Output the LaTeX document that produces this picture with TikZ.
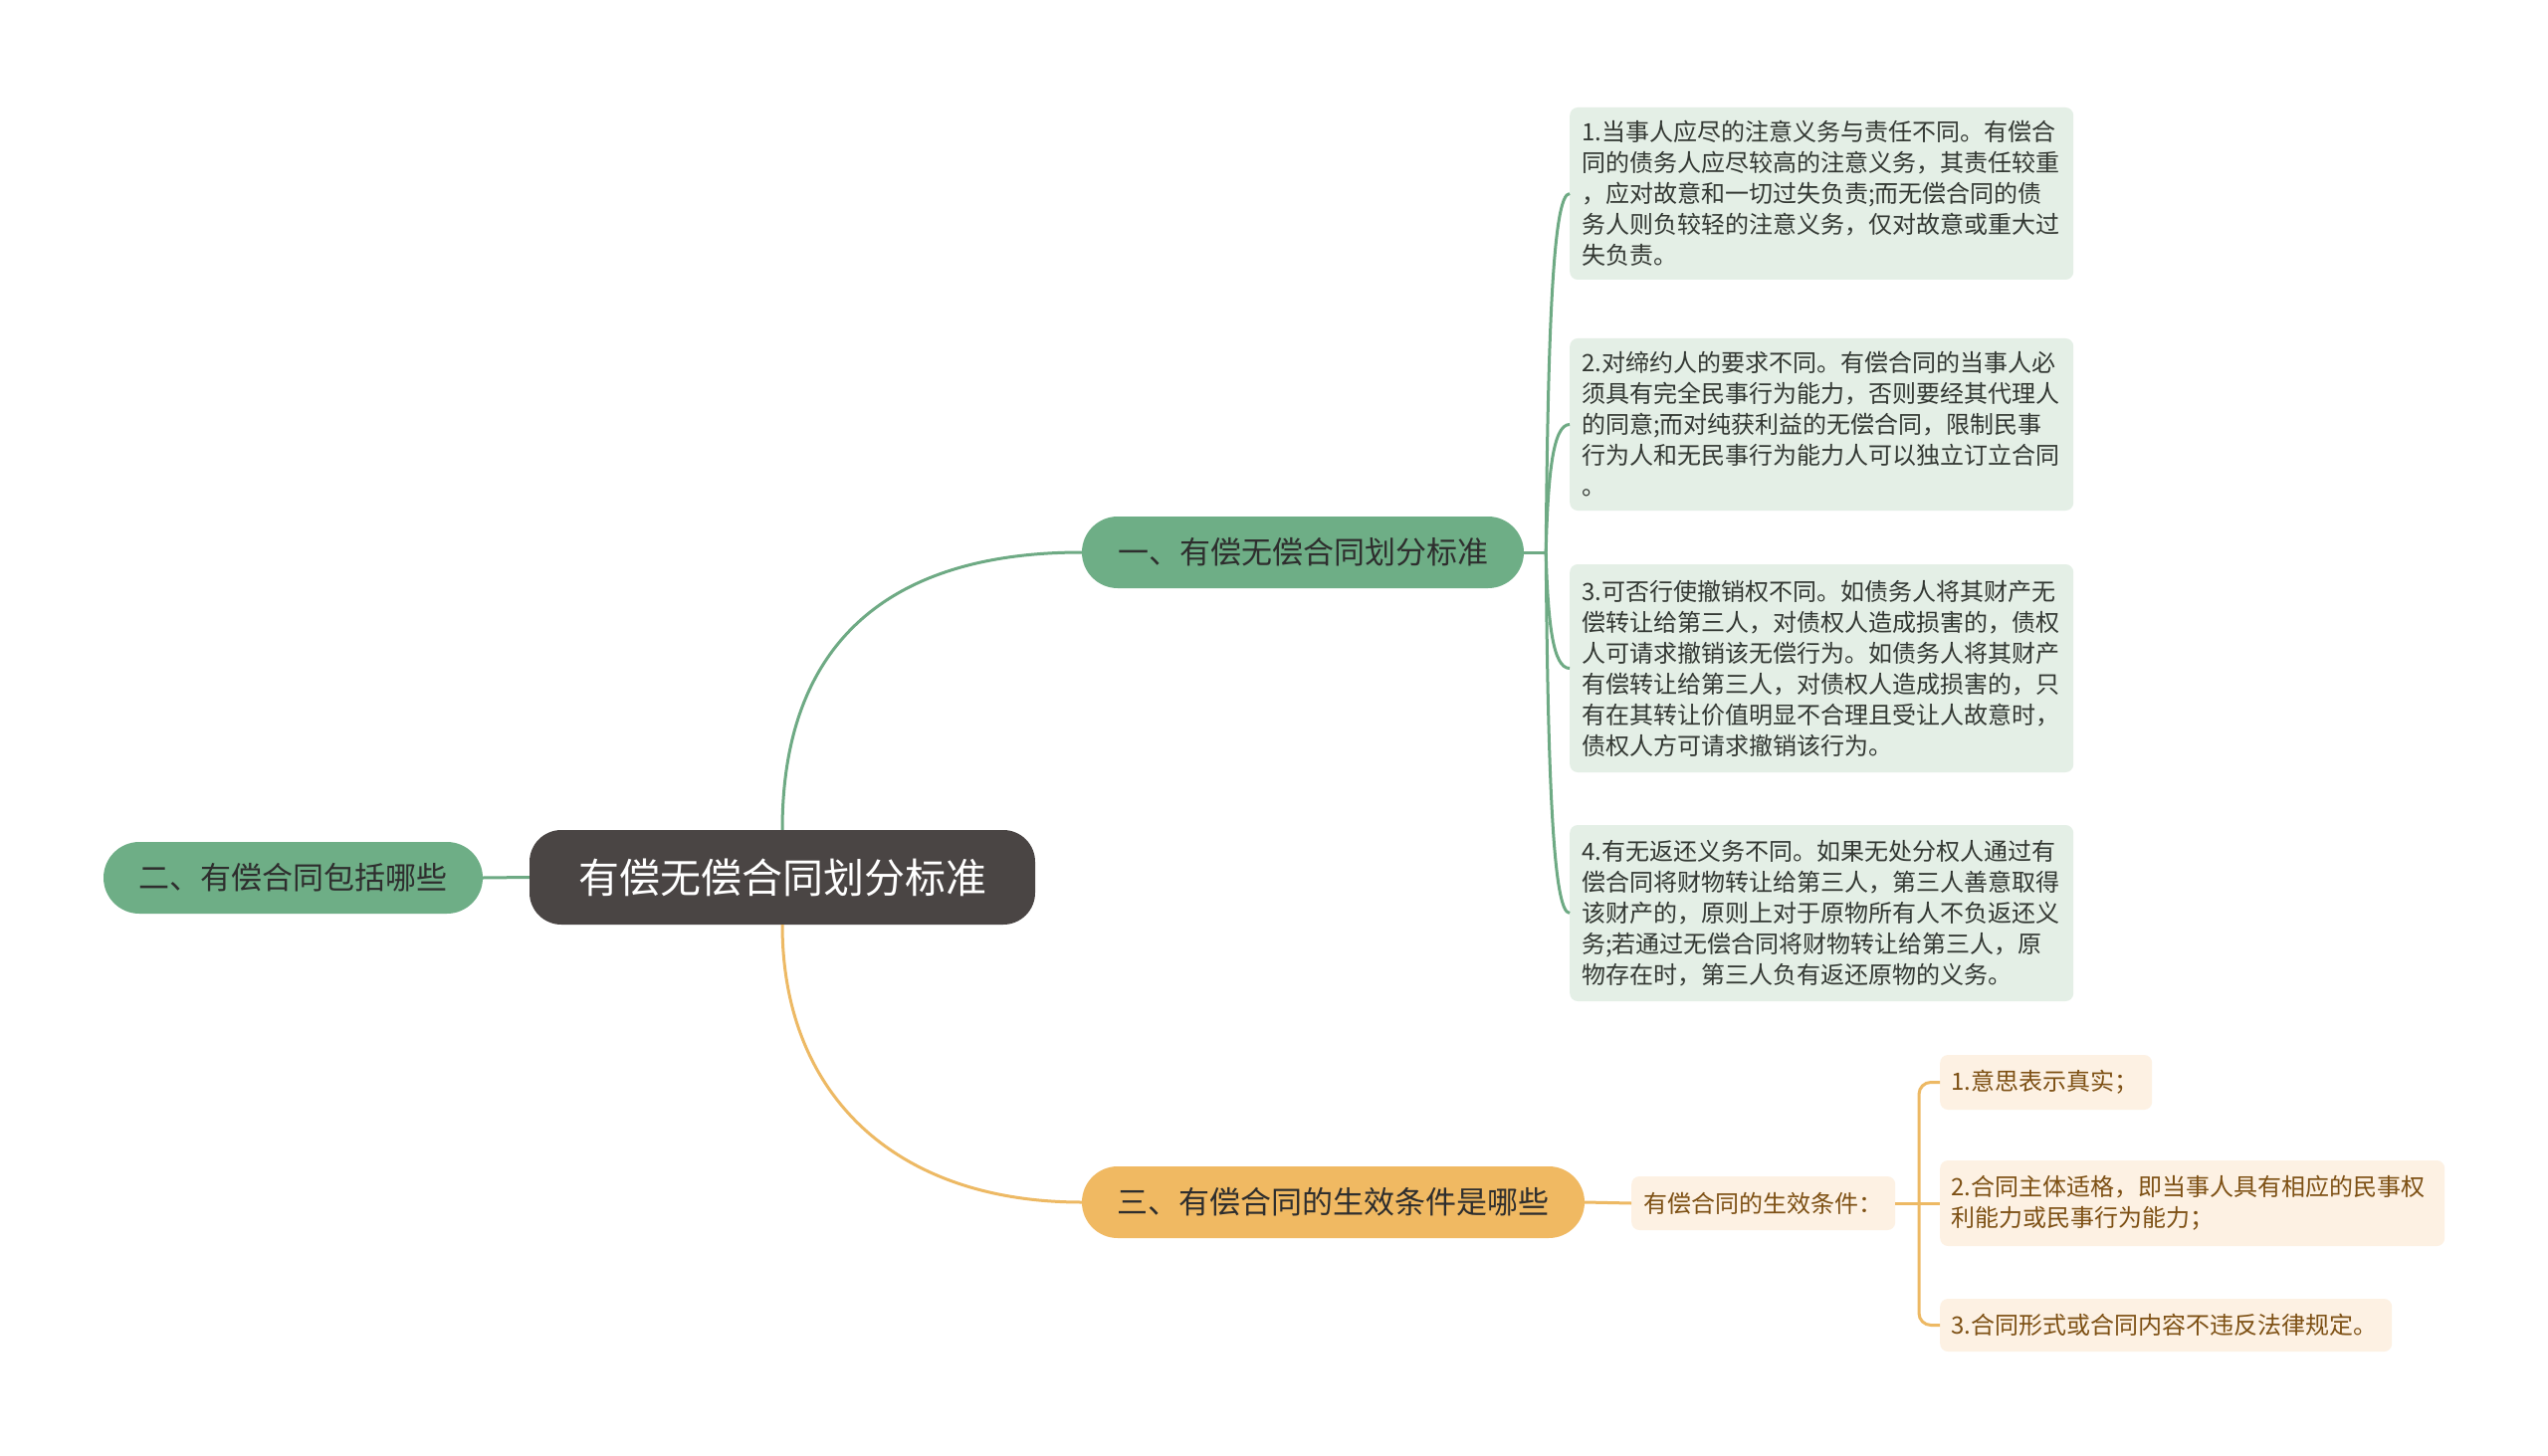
\documentclass[tikz,border=0pt]{standalone}
\usepackage{fontspec}
\setmainfont{Noto Sans CJK SC}
\definecolor{cdark}{HTML}{4A4544}
\definecolor{gbranch}{HTML}{6EAE86}
\definecolor{gleaf}{HTML}{E4EFE6}
\definecolor{gline}{HTML}{6EAA84}
\definecolor{obranch}{HTML}{F0B962}
\definecolor{oleaf}{HTML}{FDF1E3}
\definecolor{oline}{HTML}{EDB964}
\definecolor{otext}{HTML}{7D5014}
\definecolor{dtext}{HTML}{2E2E2E}
\definecolor{ltext}{HTML}{333833}
\tikzset{
  central/.style={fill=cdark, text=white, rounded corners=32pt, inner sep=0pt,
    minimum width=508pt, minimum height=95pt, font=\fontsize{41pt}{48pt}\selectfont},
  branchg/.style={fill=gbranch, text=dtext, rounded corners=36pt, inner sep=0pt,
    minimum height=72pt, font=\fontsize{31pt}{36pt}\selectfont},
  brancho/.style={fill=obranch, text=dtext, rounded corners=36pt, inner sep=0pt,
    minimum height=72pt, font=\fontsize{31pt}{36pt}\selectfont},
  leafg/.style={fill=gleaf, text=ltext, rounded corners=8pt, anchor=west,
    inner xsep=12pt, inner ysep=0pt, minimum width=506pt, text width=482pt, align=left,
    font=\fontsize{24pt}{31pt}\selectfont},
  subo/.style={fill=oleaf, text=otext, rounded corners=8pt, anchor=west,
    inner sep=0pt, minimum width=265pt, minimum height=54pt,
    font=\fontsize{24pt}{31pt}\selectfont},
  leafo/.style={fill=oleaf, text=otext, rounded corners=8pt, anchor=west,
    inner xsep=11pt, inner ysep=0pt, align=left,
    font=\fontsize{24pt}{31pt}\selectfont},
  lineg/.style={draw=gline, line width=3pt},
  lineo/.style={draw=oline, line width=3pt},
}
\begin{document}
\begin{tikzpicture}[x=1pt, y=-1pt]
\useasboundingbox[fill=white] (0,0) rectangle (2560,1463);

% main nodes
\node[central] (c) at (786,881.5) {有偿无偿合同划分标准};
\node[branchg, minimum width=444pt] (b1) at (1309,555) {一、有偿无偿合同划分标准};
\node[branchg, minimum width=381pt] (b2) at (294.5,882) {二、有偿合同包括哪些};
\node[brancho, minimum width=505pt] (b3) at (1339.5,1208) {三、有偿合同的生效条件是哪些};

% green leaves
\node[leafg, minimum height=173pt] (g1) at (1577,194.5) {1.当事人应尽的注意义务与责任不同。有偿合\\同的债务人应尽较高的注意义务，其责任较重\\，应对故意和一切过失负责;而无偿合同的债\\务人则负较轻的注意义务，仅对故意或重大过\\失负责。};
\node[leafg, minimum height=173pt] (g2) at (1577,426.5) {2.对缔约人的要求不同。有偿合同的当事人必\\须具有完全民事行为能力，否则要经其代理人\\的同意;而对纯获利益的无偿合同，限制民事\\行为人和无民事行为能力人可以独立订立合同\\。};
\node[leafg, minimum height=209pt] (g3) at (1577,671.5) {3.可否行使撤销权不同。如债务人将其财产无\\偿转让给第三人，对债权人造成损害的，债权\\人可请求撤销该无偿行为。如债务人将其财产\\有偿转让给第三人，对债权人造成损害的，只\\有在其转让价值明显不合理且受让人故意时，\\债权人方可请求撤销该行为。};
\node[leafg, minimum height=177pt] (g4) at (1577,917.5) {4.有无返还义务不同。如果无处分权人通过有\\偿合同将财物转让给第三人，第三人善意取得\\该财产的，原则上对于原物所有人不负返还义\\务;若通过无偿合同将财物转让给第三人，原\\物存在时，第三人负有返还原物的义务。};

% orange sub and leaves
\node[subo] (s) at (1639,1209) {有偿合同的生效条件：};
\node[leafo, minimum width=213pt, minimum height=55pt, text width=191pt] (l1) at (1949,1087.5) {1.意思表示真实；};
\node[leafo, minimum width=507pt, minimum height=86pt, text width=485pt] (l2) at (1949,1209) {2.合同主体适格，即当事人具有相应的民事权\\利能力或民事行为能力；};
\node[leafo, minimum width=454pt, minimum height=53pt, text width=432pt] (l3) at (1949,1331.5) {3.合同形式或合同内容不违反法律规定。};

% main connectors
\draw[lineg] (c.north) .. controls +(0,-194) and +(-187,0) .. (b1.west);
\draw[lineo] (c.south) .. controls +(0,171) and +(-187,0) .. (b3.west);
\draw[lineg] (c.west) -- (b2.east);

% green branch connectors
\draw[lineg] (b1.east) -- ++(22,0) coordinate (j1);
\draw[lineg] (j1) .. controls +(2,-216) and +(-17,0) .. (g1.west);
\draw[lineg] (j1) .. controls +(2,-77) and +(-17,0) .. (g2.west);
\draw[lineg] (j1) .. controls +(2,70) and +(-17,0) .. (g3.west);
\draw[lineg] (j1) .. controls +(2,218) and +(-17,0) .. (g4.west);

% orange connectors
\draw[lineo] (b3.east) -- (s.west);
\draw[lineo] (s.east) -- (l2.west);
\coordinate (k) at (1928,1209);
\draw[lineo, rounded corners=12pt] (l1.west) -| (k) |- (l3.west);
\end{tikzpicture}
\end{document}
